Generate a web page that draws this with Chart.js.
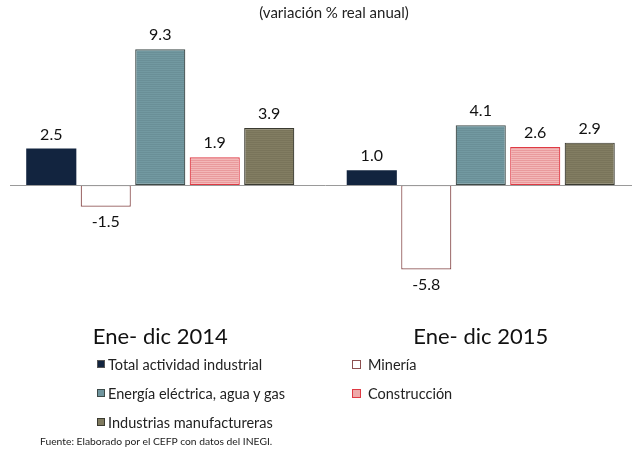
<!DOCTYPE html>
<html><head><meta charset="utf-8">
<script src="https://cdn.jsdelivr.net/npm/chart.js@4/dist/chart.umd.min.js"></script>
<style>
html,body{margin:0;padding:0;background:#fff;overflow:hidden;width:632px;height:450px;}
#wrap{position:relative;width:641px;height:450px;}
#title{position:absolute;left:0;width:668px;top:3px;text-align:center;font-family:Lato,"Open Sans",sans-serif;font-size:15px;color:#222;}
#legend{position:absolute;left:97px;top:355px;display:grid;grid-template-columns:255px 200px;row-gap:11px;font-family:Lato,"Open Sans",sans-serif;font-size:14.5px;color:#222;}
.li{display:flex;align-items:center;height:18px;white-space:nowrap;}
.bx{width:8px;height:8px;margin-right:3px;box-sizing:border-box;border:1px solid #555;flex:none;}
.c2 .bx{width:9px;height:9px;margin-right:7px;}
#src{position:absolute;left:40px;top:435px;font-family:Lato,"Open Sans",sans-serif;font-size:10.3px;color:#222;}
</style></head>
<body>
<div id="wrap"><canvas id="c" width="641" height="450"></canvas>
<div id="title"></div>
<div id="legend"></div>
<div id="src">Fuente: Elaborado por el CEFP con datos del INEGI.</div>
</div>
<script>
const categories = ["Ene- dic 2014", "Ene- dic 2015"];
const seriesNames = ["Total actividad industrial", "Minería", "Energía eléctrica, agua y  gas", "Construcción", "Industrias manufactureras"];
const totalActividad = [2.5, 1.0];
const mineria = [-1.5, -5.8];
const energia = [9.3, 4.1];
const construccion = [1.9, 2.6];
const manufactureras = [3.9, 2.9];
const chartTitle = "(variación % real anual)";

document.getElementById('title').textContent = chartTitle;

function stripes(base, line, gap) {
  const p = document.createElement('canvas');
  p.width = 4; p.height = gap;
  const g = p.getContext('2d');
  g.fillStyle = base; g.fillRect(0, 0, 4, gap);
  g.fillStyle = line; g.fillRect(0, 0, 4, 1);
  return g.createPattern(p, 'repeat');
}
const ctx = document.getElementById('c').getContext('2d');
const fills = ["#12243f", "#ffffff", stripes("#7299a1", "#6a8f97", 2), stripes("#f3b8b8", "#e99a9c", 2), stripes("#827d62", "#79745a", 2)];
const legendFills = ["#12243f", "#ffffff", "#6f959e", "#eeaaaa", "#7f7a5f"];
const borders = ["#12243f", "#8c5050", "#3d4a48", "#df3a44", "#3a3a30"];
const values = [totalActividad, mineria, energia, construccion, manufactureras];

const datasets = seriesNames.map((n, i) => ({
  label: n, data: values[i], backgroundColor: fills[i], borderColor: borders[i],
  borderWidth: i === 0 ? 0 : 1.2, borderSkipped: false, categoryPercentage: 0.85, barPercentage: 0.92
}));

const zeroAndLabels = {
  id: 'zl',
  afterDatasetsDraw(chart) {
    const c = chart.ctx, y = chart.scales.y.getPixelForValue(0);
    c.save(); c.strokeStyle = '#9a9a9a'; c.lineWidth = 1;
    c.beginPath(); c.moveTo(10, Math.round(y) + 0.5); c.lineTo(chart.width, Math.round(y) + 0.5); c.stroke(); c.restore();
    c.save(); c.font = '16px Lato, "Open Sans", sans-serif'; c.fillStyle = '#111'; c.textAlign = 'center';
    chart.data.datasets.forEach((ds, di) => {
      chart.getDatasetMeta(di).data.forEach((bar, i) => {
        const v = ds.data[i];
        if (v >= 0) { c.textBaseline = 'bottom'; c.fillText(v.toFixed(1), bar.x, bar.y - 6); }
        else { c.textBaseline = 'top'; c.fillText(v.toFixed(1), bar.x, bar.y + 7); }
      });
    });
    c.restore();
  }
};

new Chart(ctx, {
  type: 'bar',
  data: { labels: categories, datasets },
  options: {
    responsive: false, animation: false,
    layout: { padding: { left: 0, right: 0, top: 24.5, bottom: 86 } },
    plugins: { legend: { display: false }, tooltip: { enabled: false }, title: { display: false } },
    scales: {
      x: { grid: { display: false }, border: { display: false },
           ticks: { color: '#111', padding: 14, font: { family: 'Lato, "Open Sans", sans-serif', size: 22 } } },
      y: { display: false, min: -8, max: 11 }
    }
  },
  plugins: [zeroAndLabels]
});

const lg = document.getElementById('legend');
[0, 1, 2, 3, 4].forEach((i, k) => {
  const d = document.createElement('div'); d.className = 'li' + (k % 2 ? ' c2' : '');
  const b = document.createElement('span'); b.className = 'bx';
  b.style.background = legendFills[i]; b.style.borderColor = i === 0 ? '#555' : borders[i];
  d.appendChild(b); d.appendChild(document.createTextNode(seriesNames[i]));
  lg.appendChild(d);
});
</script>
</body></html>
